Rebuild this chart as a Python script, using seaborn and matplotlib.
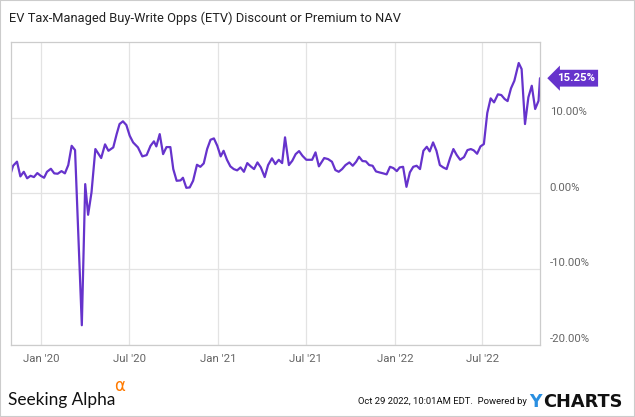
import matplotlib
matplotlib.use("Agg")
import matplotlib.pyplot as plt
import matplotlib.transforms as mtransforms
from matplotlib.patches import Rectangle
import seaborn as sns
import pandas as pd

dates = [
    "2019-10-30", "2019-11-04", "2019-11-12", "2019-11-19", "2019-11-26", "2019-12-03",
    "2019-12-10", "2019-12-17", "2019-12-24", "2019-12-31", "2020-01-07", "2020-01-13",
    "2020-01-21", "2020-01-28", "2020-02-04", "2020-02-12", "2020-02-19", "2020-02-26",
    "2020-03-04", "2020-03-11", "2020-03-25", "2020-04-01", "2020-04-07", "2020-04-14",
    "2020-04-22", "2020-05-04", "2020-05-12", "2020-05-19", "2020-05-29", "2020-06-05",
    "2020-06-11", "2020-06-18", "2020-06-25", "2020-07-02", "2020-07-09", "2020-07-19",
    "2020-07-28", "2020-08-06", "2020-08-14", "2020-08-21", "2020-08-26", "2020-09-02",
    "2020-09-09", "2020-09-16", "2020-09-24", "2020-09-30", "2020-10-07", "2020-10-15",
    "2020-10-20", "2020-10-27", "2020-11-03", "2020-11-10", "2020-11-18", "2020-11-25",
    "2020-12-02", "2020-12-09", "2020-12-16", "2020-12-23", "2020-12-30", "2021-01-06",
    "2021-01-12", "2021-01-19", "2021-01-26", "2021-02-02", "2021-02-09", "2021-02-16",
    "2021-02-23", "2021-03-02", "2021-03-09", "2021-03-16", "2021-03-23", "2021-03-30",
    "2021-04-07", "2021-04-14", "2021-04-22", "2021-04-29", "2021-05-06", "2021-05-13",
    "2021-05-19", "2021-05-27", "2021-06-03", "2021-06-10", "2021-06-17", "2021-06-24",
    "2021-07-02", "2021-07-08", "2021-07-14", "2021-07-21", "2021-07-28", "2021-08-08",
    "2021-08-16", "2021-08-24", "2021-08-31", "2021-09-07", "2021-09-14", "2021-09-21",
    "2021-09-29", "2021-10-06", "2021-10-13", "2021-10-19", "2021-10-26", "2021-11-02",
    "2021-11-09", "2021-11-16", "2021-11-23", "2021-11-30", "2021-12-08", "2021-12-15",
    "2021-12-22", "2021-12-29", "2022-01-05", "2022-01-11", "2022-01-18", "2022-01-25",
    "2022-02-01", "2022-02-08", "2022-02-15", "2022-02-22", "2022-03-01", "2022-03-08",
    "2022-03-14", "2022-03-21", "2022-03-28", "2022-04-04", "2022-04-11", "2022-04-18",
    "2022-04-25", "2022-05-02", "2022-05-09", "2022-05-16", "2022-05-24", "2022-05-31",
    "2022-06-07", "2022-06-13", "2022-06-20", "2022-06-27", "2022-07-04", "2022-07-11",
    "2022-07-18", "2022-07-25", "2022-08-02", "2022-08-09", "2022-08-16", "2022-08-22",
    "2022-08-29", "2022-09-05", "2022-09-14", "2022-09-20", "2022-09-27", "2022-10-04",
    "2022-10-11", "2022-10-18", "2022-10-25", "2022-10-28",
]

premium = [
    2.65, 3.66, 4.20, 2.25, 2.86, 2.00,
    2.33, 2.16, 2.69, 2.33, 2.07, 2.86,
    3.26, 2.65, 2.60, 2.95, 2.65, 3.75,
    6.30, 5.73, -17.45, 1.23, -2.83, 0.13,
    5.87, 4.68, 6.49, 5.64, 6.09, 7.85,
    9.18, 9.54, 9.05, 7.63, 6.75, 6.09,
    4.90, 5.07, 6.30, 6.89, 6.22, 7.85,
    5.20, 6.13, 6.13, 3.22, 1.67, 1.72,
    2.07, 0.74, 0.79, 1.67, 3.79, 3.52,
    3.97, 5.87, 7.10, 7.28, 6.30, 4.90,
    5.64, 4.45, 3.58, 3.22, 3.05, 3.44,
    2.86, 4.01, 3.58, 3.22, 4.10, 3.44,
    2.16, 3.75, 4.64, 3.88, 4.45, 4.01,
    7.42, 3.75, 4.32, 5.20, 5.60, 4.98,
    4.45, 4.45, 4.45, 5.43, 3.58, 4.68,
    4.54, 4.19, 3.09, 2.86, 3.22, 3.75,
    4.10, 3.66, 4.19, 4.85, 4.28, 4.24,
    3.75, 3.66, 2.91, 2.78, 2.65, 2.52,
    3.52, 3.35, 2.95, 3.44, 3.52, 0.87,
    2.78, 3.52, 3.66, 3.22, 5.64, 6.17,
    5.56, 6.75, 5.64, 3.75, 3.44, 3.22,
    4.64, 5.87, 5.07, 4.45, 4.81, 5.73,
    5.87, 5.70, 5.25, 6.22, 6.53, 10.64,
    12.58, 12.05, 13.11, 13.02, 12.49, 12.22,
    13.90, 14.91, 17.26, 16.46, 9.18, 12.72,
    14.25, 11.17, 12.26, 15.25,
]

tick_dates = ["2020-01-01", "2020-07-01", "2021-01-01", "2021-07-01", "2022-01-01", "2022-07-01"]
tick_labels = ["Jan '20", "Jul '20", "Jan '21", "Jul '21", "Jan '22", "Jul '22"]
y_ticks = [-20, -10, 0, 10]
y_labels = ["-20.00%", "-10.00%", "0.00%", "10.00%"]

title = "EV Tax-Managed Buy-Write Opps (ETV) Discount or Premium to NAV"
last_label = "15.25%"

purple = "#6633CC"
grid_c = "#e3e3e3"
label_c = "#666666"

sns.set_theme(style="white")
plt.rcParams["font.family"] = ["Roboto", "DejaVu Sans"]

df = pd.DataFrame({"date": pd.to_datetime(dates), "premium": premium})

fig = plt.figure(figsize=(6.35, 4.17), dpi=100)
ax = fig.add_axes([10.7 / 635, 1 - 344.5 / 417, (540 - 10.7) / 635, (344.5 - 42.3) / 417])

sns.lineplot(data=df, x="date", y="premium", ax=ax, color=purple, linewidth=1.6)

ax.set_xlim(pd.Timestamp("2019-10-30"), pd.Timestamp("2022-10-28"))
ax.set_ylim(-20, 20)
ax.set_xticks(pd.to_datetime(tick_dates))
ax.set_xticklabels(tick_labels)
ax.set_yticks(y_ticks)
ax.set_yticklabels(y_labels)
ax.yaxis.tick_right()
ax.tick_params(axis="y", length=0, pad=7, labelsize=8.2, labelcolor=label_c)
ax.tick_params(axis="x", length=0, pad=7, labelsize=8.2, labelcolor=label_c)
shift = mtransforms.ScaledTranslation(0, 6.5 / 100, fig.dpi_scale_trans)
for lab in ax.get_yticklabels():
    lab.set_horizontalalignment("left")
    lab.set_transform(lab.get_transform() + shift)
ax.set_xlabel("")
ax.set_ylabel("")
ax.grid(True, color=grid_c, linewidth=0.9)
ax.set_axisbelow(True)
for s in ax.spines.values():
    s.set_color("#cccccc")
    s.set_linewidth(0.9)

ax.annotate(last_label, xy=(1.0, premium[-1]), xycoords=("axes fraction", "data"),
            xytext=(12, 0), textcoords="offset points", ha="left", va="center",
            color="white", fontsize=8.2, fontweight="bold",
            bbox=dict(boxstyle="larrow,pad=0.3", fc=purple, ec="none"))

fig.text(9 / 635, 1 - 18 / 417, title, ha="left", va="center", fontsize=9.3, color="#222222")

fig.text(8 / 635, 1 - 400 / 417, "Seeking Alpha", ha="left", va="center", fontsize=12.4,
         color="#111111", family=["Lato", "DejaVu Sans"])
fig.text(114 / 635, 1 - 386 / 417, "α", ha="left", va="center", fontsize=12,
         color="#ff7a00", family=["DejaVu Sans"])
fig.text(527 / 635, 1 - 402 / 417, "Oct 29 2022, 10:01AM EDT.  Powered by", ha="right",
         va="center", fontsize=6.8, color="#111111")
fig.text(529 / 635, 1 - 402 / 417, "Y", ha="left", va="center", fontsize=12.5,
         fontweight="bold", color="#2a8fe0", family=["DejaVu Sans"])
fig.text(543 / 635, 1 - 402 / 417, "CHARTS", ha="left", va="center", fontsize=12.8,
         fontweight="bold", color="#111111", family=["DejaVu Sans"])

fig.patches.append(Rectangle((0, 0), 1, 1, transform=fig.transFigure, fill=False,
                             ec="#cccccc", lw=1.5))

fig.savefig("out.png", dpi=100, facecolor="white")
